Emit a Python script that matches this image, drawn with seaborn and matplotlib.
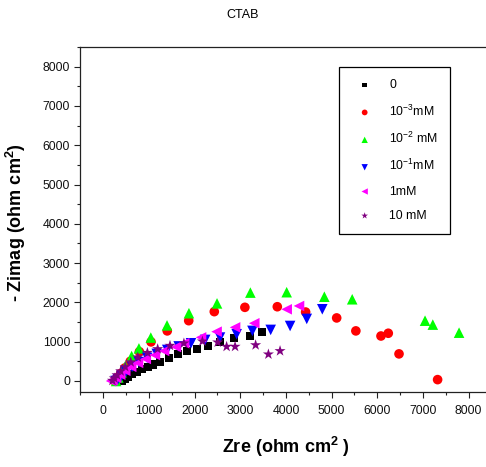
import matplotlib
matplotlib.use("Agg")
import matplotlib.pyplot as plt
import seaborn as sns
import pandas as pd
from matplotlib.ticker import MultipleLocator

# ---- data ----
labels = ['0', '10$^{-3}$mM', '10$^{-2}$ mM', '10$^{-1}$mM', '1mM', '10 mM']

zre_0 = [400, 470, 540, 620, 730, 855, 970, 1095, 1240, 1440, 1630, 1830, 2045, 2300, 2555, 2860, 3220, 3470]
zim_0 = [0, 40, 100, 170, 240, 300, 360, 420, 490, 590, 680, 770, 815, 900, 1000, 1085, 1145, 1240]

zre_1 = [250, 300, 380, 470, 590, 790, 1045, 1400, 1870, 2430, 3100, 3810, 4430, 5110, 5530, 6080, 6240, 6475, 7320]
zim_1 = [0, 80, 190, 330, 500, 745, 995, 1275, 1535, 1765, 1875, 1890, 1755, 1605, 1275, 1145, 1215, 690, 35]

zre_2 = [280, 330, 400, 480, 620, 780, 1040, 1395, 1875, 2490, 3220, 4015, 4840, 5450, 7045, 7215, 7790]
zim_2 = [0, 90, 220, 380, 635, 830, 1105, 1415, 1725, 1975, 2250, 2260, 2145, 2080, 1535, 1435, 1230]

zre_3 = [270, 320, 400, 500, 630, 780, 960, 1170, 1400, 1650, 1920, 2230, 2555, 2920, 3265, 3665, 4090, 4455, 4795]
zim_3 = [0, 40, 130, 240, 360, 480, 590, 690, 790, 880, 960, 1045, 1105, 1190, 1275, 1300, 1400, 1580, 1825]

zre_4 = [170, 200, 280, 370, 480, 610, 760, 930, 1130, 1330, 1590, 1770, 2140, 2480, 2885, 3305, 4015, 4285]
zim_4 = [0, 20, 80, 160, 260, 360, 460, 560, 660, 765, 865, 960, 1110, 1255, 1365, 1470, 1825, 1910]

zre_5 = [200, 240, 300, 380, 480, 600, 755, 965, 1190, 1460, 1765, 2170, 2505, 2700, 2885, 3335, 3615, 3870]
zim_5 = [10, 70, 150, 250, 360, 480, 605, 720, 815, 900, 960, 1010, 985, 875, 875, 915, 680, 765]

series_x = [zre_0, zre_1, zre_2, zre_3, zre_4, zre_5]
series_y = [zim_0, zim_1, zim_2, zim_3, zim_4, zim_5]
colors = ['#000000', '#ff0000', '#00ff00', '#0000ff', '#ff00ff', '#800080']
markers = ['s', 'o', '^', 'v', '<', '*']
sizes = [34, 48, 58, 58, 58, 70]

# ---- style ----
sns.set_style('ticks')
plt.rcParams['font.family'] = ['Liberation Sans', 'DejaVu Sans']
plt.rcParams['text.color'] = 'black'
plt.rcParams['axes.labelcolor'] = 'black'
plt.rcParams['xtick.color'] = 'black'
plt.rcParams['ytick.color'] = 'black'
plt.rcParams['mathtext.fontset'] = 'custom'
plt.rcParams['mathtext.rm'] = 'Liberation Sans'
plt.rcParams['mathtext.bf'] = 'Liberation Sans:bold'
plt.rcParams['mathtext.default'] = 'regular'

fig = plt.figure(figsize=(4.86, 4.67), dpi=100)
ax = fig.add_axes([0.1656, 0.1606, 0.8457, 0.7388])

for x, y, lab, c, m, s in zip(series_x, series_y, labels, colors, markers, sizes):
    df = pd.DataFrame({'Zre': x, 'Zim': y})
    sns.scatterplot(data=df, x='Zre', y='Zim', ax=ax, color=c, marker=m, s=s,
                    edgecolor='none', linewidth=0, label=lab)

ax.set_xlim(-500, 8500)
ax.set_ylim(-280, 8500)
ax.xaxis.set_major_locator(MultipleLocator(1000))
ax.xaxis.set_minor_locator(MultipleLocator(500))
ax.yaxis.set_major_locator(MultipleLocator(1000))
ax.yaxis.set_minor_locator(MultipleLocator(500))
ax.tick_params(which='major', direction='out', length=4.5, width=0.8, labelsize=8.8, pad=5,
               color='#222222', labelcolor='#111111')
ax.tick_params(axis='y', which='major', pad=3)
ax.tick_params(which='minor', direction='out', length=2.5, width=0.8, color='#222222')
for sp in ax.spines.values():
    sp.set_linewidth(0.9)
    sp.set_color('#222222')

ax.set_xlabel('Zre (ohm cm$^{2}$ )', fontsize=13, fontweight='bold', color='black')
ax.set_ylabel('- Zimag (ohm cm$^{2}$)', fontsize=13, fontweight='bold', color='black')
ax.xaxis.set_label_coords(0.5, -0.125)
ax.yaxis.set_label_coords(-0.128, 0.49)

fig.text(0.5, 0.968, 'CTAB', ha='center', va='center', fontsize=9, color='black')

leg = ax.legend(loc='upper left', bbox_to_anchor=(0.629, 0.942), fontsize=8.8,
                frameon=True, fancybox=False, edgecolor='black', framealpha=1,
                labelspacing=1.0, markerscale=0.6, handletextpad=0.9,
                borderpad=1.0, handlelength=2.2, borderaxespad=0)
leg.get_frame().set_linewidth(0.9)
for t in leg.get_texts():
    t.set_color('black')

fig.savefig('out.png', dpi=100)
